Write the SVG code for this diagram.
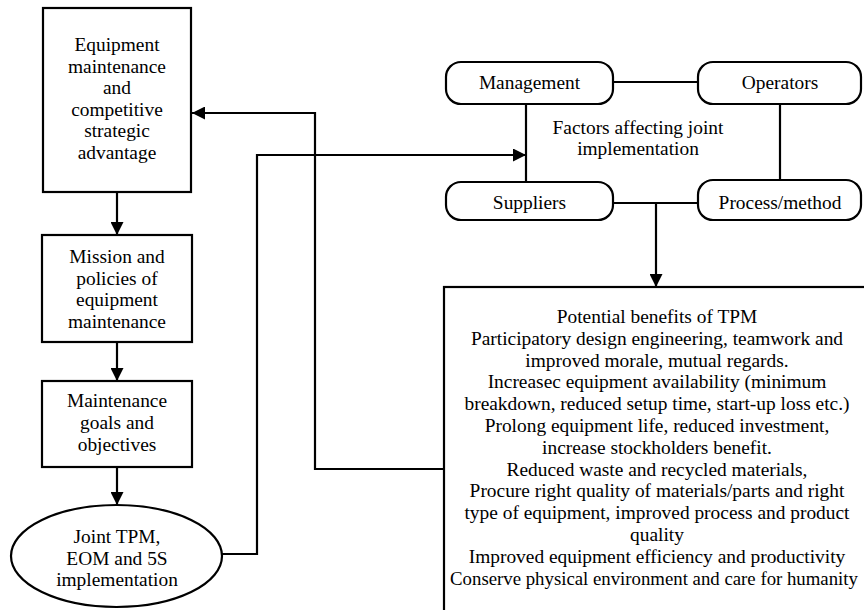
<svg xmlns="http://www.w3.org/2000/svg" width="864" height="610" viewBox="0 0 864 610">
<defs>
<marker id="ah" viewBox="0 0 10 10" markerUnits="userSpaceOnUse" markerWidth="13" markerHeight="13" refX="10" refY="5" orient="auto">
<path d="M0,0 L10,5 L0,10 z" fill="#000"/>
</marker>
</defs>
<rect width="864" height="610" fill="#fff"/>
<g id="connectors" fill="none" stroke="#000" stroke-width="2.2">
<path d="M117,192 V235" marker-end="url(#ah)"/>
<path d="M117,342 V381" marker-end="url(#ah)"/>
<path d="M117,467 V505" marker-end="url(#ah)"/>
<path d="M444,469 H315 V113 H192" marker-end="url(#ah)"/>
<path d="M222,554 H257 V155 H526" marker-end="url(#ah)"/>
<path d="M613,82 H698"/>
<path d="M526,104 V182"/>
<path d="M780,104 V180"/>
<path d="M613,203 H698"/>
<path d="M656,203 V287" marker-end="url(#ah)"/>
</g>
<g id="shapes" fill="#fff" stroke="#000" stroke-width="2.2">
<rect x="43" y="8" width="148" height="184"/>
<rect x="42" y="235" width="150" height="107"/>
<rect x="42" y="381" width="150" height="86"/>
<ellipse cx="116.5" cy="556" rx="105.5" ry="51"/>
<rect x="446" y="62" width="167" height="42" rx="15"/>
<rect x="698" y="62" width="163" height="42" rx="15"/>
<rect x="446" y="182" width="167" height="38" rx="15"/>
<rect x="698" y="180" width="163" height="40" rx="15"/>
<rect x="444" y="287" width="440" height="340"/>
</g>
<g font-size="19.4" text-anchor="middle">
<g id="n1">
<text font-family="Liberation Serif" x="117" y="51">Equipment</text>
<text font-family="Liberation Serif" x="117" y="72.6">maintenance</text>
<text font-family="Liberation Serif" x="117" y="94.2">and</text>
<text font-family="Liberation Serif" x="117" y="115.8">competitive</text>
<text font-family="Liberation Serif" x="117" y="137.4">strategic</text>
<text font-family="Liberation Serif" x="117" y="159">advantage</text>
</g>
<g id="n2">
<text font-family="Liberation Serif" x="117" y="263">Mission and</text>
<text font-family="Liberation Serif" x="117" y="284.5">policies of</text>
<text font-family="Liberation Serif" x="117" y="306">equipment</text>
<text font-family="Liberation Serif" x="117" y="327.5">maintenance</text>
</g>
<g id="n3">
<text font-family="Liberation Serif" x="117" y="407">Maintenance</text>
<text font-family="Liberation Serif" x="117" y="429">goals and</text>
<text font-family="Liberation Serif" x="117" y="451">objectives</text>
</g>
<g id="n4">
<text font-family="Liberation Serif" x="117" y="543">Joint TPM,</text>
<text font-family="Liberation Serif" x="117" y="564.5">EOM and 5S</text>
<text font-family="Liberation Serif" x="117" y="586">implementation</text>
</g>
<g id="management">
<text font-family="Liberation Serif" x="529.5" y="89">Management</text>
</g>
<g id="operators">
<text font-family="Liberation Serif" x="780" y="89">Operators</text>
</g>
<g id="suppliers">
<text font-family="Liberation Serif" x="529.5" y="209">Suppliers</text>
</g>
<g id="process">
<text font-family="Liberation Serif" x="780" y="209">Process/method</text>
</g>
<g id="factors">
<text font-family="Liberation Serif" x="638" y="134">Factors affecting joint</text>
<text font-family="Liberation Serif" x="638" y="155">implementation</text>
</g>
<g id="benefits">
<text font-family="Liberation Serif" x="657" y="323">Potential benefits of TPM</text>
<text font-family="Liberation Serif" x="657" y="344.8">Participatory design engineering, teamwork and</text>
<text font-family="Liberation Serif" x="657" y="366.6">improved morale, mutual regards.</text>
<text font-family="Liberation Serif" x="657" y="388.4">Increasec equipment availability (minimum</text>
<text font-family="Liberation Serif" x="657" y="410.2">breakdown, reduced setup time, start-up loss etc.)</text>
<text font-family="Liberation Serif" x="657" y="432">Prolong equipment life, reduced investment,</text>
<text font-family="Liberation Serif" x="657" y="453.8">increase stockholders benefit.</text>
<text font-family="Liberation Serif" x="657" y="475.6">Reduced waste and recycled materials,</text>
<text font-family="Liberation Serif" x="657" y="497.4">Procure right quality of materials/parts and right</text>
<text font-family="Liberation Serif" x="657" y="519.2">type of equipment, improved process and product</text>
<text font-family="Liberation Serif" x="657" y="541">quality</text>
<text font-family="Liberation Serif" x="657" y="562.8">Improved equipment efficiency and productivity</text>
<text font-family="Liberation Serif" x="654" y="584.6" font-size="18.8">Conserve physical environment and care for humanity</text>
</g>
</g>
</svg>
